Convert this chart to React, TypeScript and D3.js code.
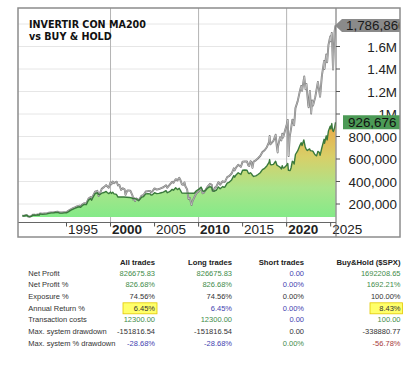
import React from 'react'
import * as d3 from 'd3'

// Buy & Hold ($SPX) equity, [year, value in thousands]
const buyHold: [number, number][] = [
  [1990.0, 99], [1990.15, 93], [1990.3, 98], [1990.5, 101], [1990.65, 88], [1990.8, 85], [1991.0, 92],
  [1991.15, 104], [1991.35, 106], [1991.5, 103], [1991.75, 108], [1991.9, 105], [1992.0, 117],
  [1992.25, 113], [1992.5, 115], [1992.75, 117], [1993.0, 122], [1993.25, 126], [1993.5, 126], [1993.75, 129], [1994.0, 131],
  [1994.25, 124], [1994.5, 125], [1994.75, 128], [1995.0, 129], [1995.25, 141], [1995.5, 153], [1995.75, 164], [1996.0, 172],
  [1996.25, 181], [1996.5, 186], [1996.6, 178], [1996.75, 193], [1997.0, 207], [1997.25, 205], [1997.5, 248], [1997.75, 262], [1997.85, 246], [1998.0, 272],
  [1998.25, 309], [1998.5, 317], [1998.65, 270], [1998.75, 285], [1999.0, 335], [1999.25, 350], [1999.5, 368], [1999.65, 355], [1999.8, 345], [2000.0, 392],
  [2000.1, 375], [2000.25, 400], [2000.4, 385], [2000.6, 395], [2000.7, 398], [2000.85, 365], [2001.0, 370],
  [2001.2, 325], [2001.4, 340], [2001.6, 330], [2001.7, 282], [2001.9, 318], [2002.0, 321], [2002.25, 318], [2002.5, 275], [2002.55, 240], [2002.65, 255], [2002.8, 226], [2002.9, 250], [2003.0, 246],
  [2003.2, 232], [2003.5, 272], [2003.75, 280], [2004.0, 311], [2004.25, 315], [2004.5, 316], [2004.6, 302], [2004.75, 312], [2005.0, 339],
  [2005.25, 328], [2005.5, 333], [2005.75, 342], [2006.0, 349], [2006.3, 366], [2006.45, 345], [2006.75, 374], [2007.0, 397],
  [2007.15, 388], [2007.4, 421], [2007.6, 410], [2007.8, 434], [2007.95, 411], [2008.1, 375], [2008.25, 370], [2008.4, 392], [2008.5, 358], [2008.7, 330], [2008.85, 245], [2008.95, 253], [2009.0, 255],
  [2009.2, 190], [2009.3, 223], [2009.5, 257], [2009.75, 296], [2010.0, 312], [2010.3, 340], [2010.45, 295], [2010.6, 300], [2010.75, 319], [2011.0, 352],
  [2011.3, 380], [2011.5, 370], [2011.6, 315], [2011.75, 317], [2011.85, 345], [2012.0, 352], [2012.25, 394], [2012.45, 372], [2012.75, 403], [2012.9, 395], [2013.0, 399],
  [2013.25, 439], [2013.5, 450], [2013.75, 471], [2014.0, 517], [2014.1, 498], [2014.25, 524], [2014.5, 549], [2014.8, 530], [2015.0, 577],
  [2015.25, 579], [2015.5, 578], [2015.65, 543], [2015.75, 538], [2015.9, 580], [2016.0, 572], [2016.12, 521], [2016.25, 577], [2016.5, 588], [2016.75, 607], [2017.0, 627],
  [2017.25, 662], [2017.5, 678], [2017.75, 705], [2018.0, 749], [2018.07, 804], [2018.15, 730], [2018.25, 739], [2018.5, 761], [2018.75, 816], [2018.9, 700], [2018.98, 658], [2019.0, 702],
  [2019.25, 794], [2019.4, 765], [2019.5, 824], [2019.6, 790], [2019.75, 834], [2020.0, 905], [2020.13, 948], [2020.22, 626], [2020.35, 800], [2020.5, 868], [2020.65, 950], [2020.75, 942], [2020.85, 900], [2021.0, 1052],
  [2021.25, 1112], [2021.5, 1203], [2021.65, 1250], [2021.75, 1206], [2022.0, 1334], [2022.15, 1220], [2022.25, 1268], [2022.45, 1080], [2022.5, 1060], [2022.65, 1205], [2022.78, 1004], [2022.9, 1120], [2023.0, 1075],
  [2023.25, 1150], [2023.55, 1285], [2023.8, 1153], [2024.0, 1336], [2024.25, 1471], [2024.3, 1400], [2024.5, 1529], [2024.6, 1460], [2024.75, 1613], [2024.95, 1690], [2025.0, 1647],
  [2025.13, 1720], [2025.2, 1560], [2025.27, 1395], [2025.35, 1560], [2025.45, 1737], [2025.55, 1786.866],
]

// MA200 strategy equity, [year, value in thousands]
const strategy: [number, number][] = [
  [1990.0, 99], [1990.15, 93], [1990.3, 98], [1990.5, 101], [1990.65, 90], [1990.8, 89], [1991.0, 90], [1991.15, 100], [1991.35, 102], [1991.5, 99],
  [1991.75, 104], [1991.9, 101], [1992.0, 112], [1992.25, 108], [1992.5, 110], [1992.75, 112], [1993.0, 117], [1993.25, 121], [1993.5, 121], [1993.75, 124],
  [1994.0, 126], [1994.25, 119], [1994.5, 119], [1994.75, 121], [1995.0, 122], [1995.25, 133], [1995.5, 145], [1995.75, 155], [1996.0, 163], [1996.25, 171],
  [1996.5, 176], [1996.6, 170], [1996.75, 183], [1997.0, 196], [1997.25, 194], [1997.5, 235], [1997.75, 248], [1997.85, 233], [1998.0, 258], [1998.25, 293],
  [1998.5, 300], [1998.65, 284], [1998.8, 284], [1999.0, 296], [1999.25, 302], [1999.5, 312], [1999.65, 300], [1999.8, 292], [2000.0, 306], [2000.1, 294],
  [2000.25, 305], [2000.4, 290], [2000.6, 288], [2000.7, 282], [2000.85, 262], [2001.5, 262], [2002.2, 258], [2002.4, 255], [2002.5, 250], [2002.9, 246],
  [2003.0, 240], [2003.2, 230], [2003.5, 258], [2003.75, 266], [2004.0, 290], [2004.25, 292], [2004.5, 290], [2004.6, 280], [2004.75, 282], [2005.0, 300],
  [2005.25, 292], [2005.5, 294], [2005.75, 300], [2006.0, 305], [2006.3, 318], [2006.45, 300], [2006.75, 312], [2007.0, 330], [2007.15, 322], [2007.4, 345],
  [2007.6, 328], [2007.8, 340], [2007.95, 320], [2008.1, 298], [2009.5, 296], [2009.75, 318], [2010.0, 330], [2010.3, 350], [2010.45, 318], [2010.6, 312],
  [2010.75, 318], [2011.0, 340], [2011.3, 355], [2011.5, 345], [2011.6, 318], [2011.75, 312], [2011.85, 318], [2012.0, 322], [2012.25, 352], [2012.45, 335],
  [2012.75, 355], [2012.9, 348], [2013.0, 352], [2013.25, 386], [2013.5, 395], [2013.75, 414], [2014.0, 452], [2014.1, 438], [2014.25, 458], [2014.5, 478],
  [2014.8, 462], [2015.0, 500], [2015.25, 502], [2015.5, 500], [2015.65, 475], [2015.75, 470], [2015.9, 478], [2016.0, 470], [2016.12, 455], [2016.25, 445],
  [2016.5, 450], [2016.75, 462], [2017.0, 478], [2017.25, 505], [2017.5, 517], [2017.75, 538], [2018.0, 570], [2018.07, 595], [2018.15, 552], [2018.25, 548],
  [2018.5, 552], [2018.75, 580], [2018.9, 545], [2019.0, 540], [2019.25, 528], [2019.4, 512], [2019.5, 540], [2019.6, 520], [2019.75, 524], [2020.0, 545],
  [2020.13, 560], [2020.2, 500], [2020.4, 498], [2020.5, 520], [2020.65, 580], [2020.75, 575], [2020.85, 555], [2021.0, 640], [2021.25, 672], [2021.5, 720],
  [2021.65, 745], [2021.75, 720], [2021.95, 770], [2022.1, 712], [2022.2, 690], [2022.35, 676], [2022.6, 690], [2022.7, 675], [2022.9, 672], [2023.0, 668],
  [2023.2, 640], [2023.4, 628], [2023.55, 668], [2023.7, 660], [2023.8, 632], [2024.0, 700], [2024.25, 775], [2024.3, 740], [2024.5, 806], [2024.6, 770],
  [2024.75, 850], [2024.95, 892], [2025.0, 868], [2025.13, 915], [2025.2, 860], [2025.3, 845], [2025.45, 880], [2025.55, 926.676],
]

const xTicks = [1995, 2000, 2005, 2010, 2015, 2020, 2025]
const gridYears = [2000, 2010, 2020]
const yTicks = [200000, 400000, 600000, 800000, 1000000, 1200000, 1400000, 1600000]
const yTickLabels = ['200,000', '400,000', '600,000', '800,000', '1M', '1.2M', '1.4M', '1.6M']
const yGrid = [200000, 400000, 600000, 800000, 1000000, 1200000, 1400000, 1600000, 1800000]
const lastBuyHold = '1,786,866'
const lastStrategy = '926,676'

// stats table
const rowLabels = [
  'Net Profit', 'Net Profit %', 'Exposure %', 'Annual Return %',
  'Transaction costs', 'Max. system drawdown', 'Max. system % drawdown',
]
const colHeaders = ['All trades', 'Long trades', 'Short trades', 'Buy&Hold ($SPX)']
const allTrades = ['826675.83', '826.68%', '74.56%', '6.45%', '12300.00', '-151816.54', '-28.68%']
const longTrades = ['826675.83', '826.68%', '74.56%', '6.45%', '12300.00', '-151816.54', '-28.68%']
const shortTrades = ['0.00', '0.00%', '0.00%', '0.00%', '0.00', '0.00', '0.00%']
const buyHoldStats = ['1692208.65', '1692.21%', '100.00%', '8.43%', '100.00', '-338880.77', '-56.78%']
// g = green, b = blue, k = black, r = red
const allColors = ['g', 'g', 'k', 'k', 'g', 'k', 'b']
const longColors = ['g', 'g', 'k', 'b', 'g', 'k', 'b']
const shortColors = ['b', 'b', 'k', 'b', 'b', 'k', 'g']
const bhColors = ['g', 'g', 'k', 'k', 'g', 'k', 'r']
const highlight = [[0, 3], [3, 3]]

const colorMap: Record<string, string> = { g: '#3f8c4a', b: '#4343b0', k: '#333', r: '#a83a3a' }

const App: React.FC = () => {
  const left = 18, top = 8, plotRight = 336, frameRight = 400, axisY = 222.5, frameBottom = 237
  const fillBase = 217

  const x = d3.scaleLinear().domain([1995, 2025.55]).range([66.5, 335.5])
  const y = d3.scaleLinear().domain([0, 1800000]).range([226.5, 24])

  const line = d3.line<[number, number]>().x((d) => x(d[0])).y((d) => y(d[1] * 1000))
  const area = d3.area<[number, number]>().x((d) => x(d[0])).y0(fillBase).y1((d) => y(d[1] * 1000))

  const colX = [155, 232, 304, 400.5]
  const headerY = 265
  const rowY = (i: number) => 275.8 + i * 11.67
  const cols = [allTrades, longTrades, shortTrades, buyHoldStats]
  const colColors = [allColors, longColors, shortColors, bhColors]

  const bhEndY = y(1786866)
  const stEndY = y(926676)

  return (
    <svg width={420} height={369} style={{ position: 'absolute', left: 0, top: 0, background: '#fff' }}>
      <defs>
        <linearGradient id="fillGrad" gradientUnits="userSpaceOnUse" x1={0} y1={fillBase} x2={0} y2={y(950000)}>
          <stop offset="0" stopColor="#84ea88" />
          <stop offset="0.3" stopColor="#abe48a" />
          <stop offset="0.62" stopColor="#d8cf68" />
          <stop offset="1" stopColor="#eea444" />
        </linearGradient>
        <clipPath id="plotClip">
          <rect x={left} y={top} width={plotRight - left} height={axisY - top} />
        </clipPath>
        <clipPath id="frameClip">
          <rect x={left} y={top} width={frameRight - left} height={frameBottom - top} />
        </clipPath>
      </defs>

      {/* horizontal grid */}
      {yGrid.map((v) => (
        <line key={v} x1={left} x2={plotRight} y1={y(v)} y2={y(v)} stroke="#e6e6e6" strokeWidth={1} />
      ))}
      {/* decade grid */}
      {gridYears.map((yr) => (
        <line key={yr} x1={x(yr)} x2={x(yr)} y1={top} y2={axisY + 4} stroke="#b4b4b4" strokeWidth={1} />
      ))}

      <g clipPath="url(#plotClip)">
        <path d={area(strategy) || ''} fill="url(#fillGrad)" />
        <path d={line(buyHold) || ''} fill="none" stroke="#7c7c7c" strokeWidth={1.9} strokeLinejoin="round" />
        <path d={line(buyHold) || ''} fill="none" stroke="#e4e4e4" strokeWidth={0.5} strokeLinejoin="round" />
        <path d={line(strategy) || ''} fill="none" stroke="#3a7a3c" strokeWidth={1.4} strokeLinejoin="round" />
      </g>

      {/* x axis */}
      <line x1={left} x2={plotRight} y1={axisY} y2={axisY} stroke="#666" strokeWidth={1} />
      {xTicks.map((t) => (
        <g key={t}>
          <line x1={x(t)} x2={x(t)} y1={axisY} y2={axisY + 4} stroke="#555" strokeWidth={1} />
          <text x={x(t) + 1.5} y={233.5} fontFamily="Liberation Sans, Arial, sans-serif" fontSize={13.5}
            fontWeight={t % 10 === 0 ? 'bold' : 'normal'} fill="#222">{t}</text>
        </g>
      ))}

      {/* right axis */}
      <line x1={plotRight} x2={plotRight} y1={top} y2={frameBottom} stroke="#666" strokeWidth={1} />
      {yTicks.map((v, i) => (
        <g key={v}>
          <line x1={plotRight} x2={plotRight + 4} y1={y(v)} y2={y(v)} stroke="#555" strokeWidth={1} />
          <text x={397} y={y(v) + 5} textAnchor="end" fontFamily="Liberation Sans, Arial, sans-serif"
            fontSize={13.4} fill="#222">{yTickLabels[i]}</text>
        </g>
      ))}

      {/* last value callouts */}
      <g clipPath="url(#frameClip)">
        <path d={`M${plotRight - 1},${bhEndY} L${plotRight + 6},${bhEndY - 6.5} L${frameRight + 5},${bhEndY - 6.5} L${frameRight + 5},${bhEndY + 6.5} L${plotRight + 6},${bhEndY + 6.5} Z`}
          fill="#8a8a8a" />
        <text x={346} y={bhEndY + 4.8} fontFamily="Liberation Sans, Arial, sans-serif" fontSize={13.4} fill="#1a1a1a">{lastBuyHold}</text>
        <rect x={343} y={stEndY - 7} width={frameRight - 343} height={14} fill="#4c9a56" />
        <text x={348} y={stEndY + 4.8} fontFamily="Liberation Sans, Arial, sans-serif" fontSize={13.4} fill="#111">{lastStrategy}</text>
      </g>

      {/* frame */}
      <rect x={left} y={top} width={frameRight - left} height={frameBottom - top} fill="none" stroke="#8c8c8c" strokeWidth={1.5} />

      {/* title */}
      <text fontFamily="DejaVu Sans, Verdana, sans-serif" fontWeight="bold" fontSize={9.6} fill="#111">
        <tspan x={29} y={28.3}>INVERTIR CON MA200</tspan>
        <tspan x={29} y={40.3}>vs BUY &amp; HOLD</tspan>
      </text>

      {/* stats table */}
      {highlight.map(([c, r]) => {
        const w = c === 0 ? 34 : 32.5
        return (
          <rect key={c} x={colX[c] - w + 2} y={rowY(r) - 8} width={w} height={11} fill="#ffff6a" stroke="#e2c800" strokeWidth={0.8} />
        )
      })}
      <g fontFamily="Liberation Sans, Arial, sans-serif" fontSize={7.5}>
        {colHeaders.map((h, c) => (
          <text key={h} x={colX[c]} y={headerY} textAnchor="end" fontWeight="bold" fontSize={7.7} fill="#222">{h}</text>
        ))}
        {rowLabels.map((l, i) => (
          <text key={l} x={28.3} y={rowY(i)} fill="#333">{l}</text>
        ))}
        {cols.map((col, c) =>
          col.map((v, i) => (
            <text key={`${c}-${i}`} x={colX[c]} y={rowY(i)} textAnchor="end" fill={colorMap[colColors[c][i]]}>{v}</text>
          ))
        )}
      </g>
    </svg>
  )
}

export default App
